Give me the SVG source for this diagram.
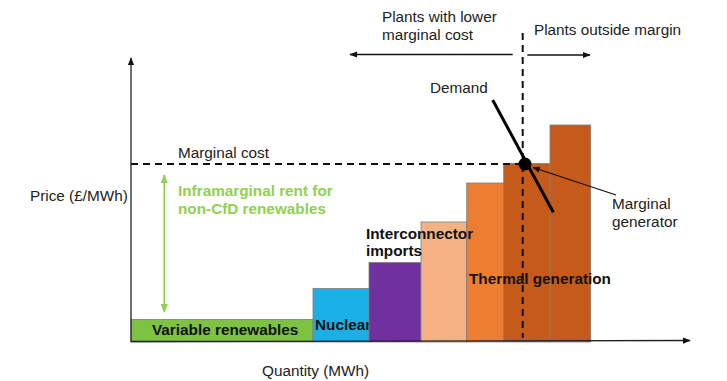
<svg xmlns="http://www.w3.org/2000/svg" width="727" height="381" viewBox="0 0 727 381">
<defs>
<style>
text{font-family:"Liberation Sans",Arial,sans-serif;font-size:15.3px;fill:#222}
.b{font-weight:bold;fill:#111}
.g{font-weight:bold;fill:#92d050}
.bar{stroke:#7f7f7f;stroke-width:0.8}
.ax{stroke:#222;stroke-width:1.3;fill:none}
.dash{stroke:#111;stroke-width:2;stroke-dasharray:7,5;fill:none}
</style>
<marker id="ah" viewBox="0 0 10 10" refX="9" refY="5" markerWidth="6" markerHeight="6" orient="auto-start-reverse"><path d="M0,1 L10,5 L0,9 z" fill="#111"/></marker>
<marker id="ahg" viewBox="0 0 10 10" refX="9" refY="5" markerWidth="5" markerHeight="6" orient="auto-start-reverse"><path d="M0,1 L10,5 L0,9 z" fill="#92d050"/></marker>
</defs>
<rect width="727" height="381" fill="#fff"/>
<g id="bars">
<g id="variable-renewables"><rect class="bar" x="131" y="319.5" width="182" height="22.5" fill="#7dc242"/><text class="b" x="152" y="335">Variable renewables</text></g>
<g id="nuclear"><rect class="bar" x="313" y="288.5" width="56" height="53.5" fill="#1aafe6"/><text class="b" x="315" y="330">Nuclear</text></g>
<g id="interconnector"><rect class="bar" x="369" y="262.5" width="52" height="79.5" fill="#7030a0"/></g>
<g id="thermal-1"><rect class="bar" x="421" y="222" width="45.7" height="120" fill="#f4b183"/></g>
<g id="thermal-2"><rect class="bar" x="466.7" y="183" width="37" height="159" fill="#ed7d31"/></g>
<g id="thermal-3"><rect class="bar" x="503.7" y="163.5" width="46.3" height="178.5" fill="#c55a1a"/></g>
<g id="thermal-4"><rect class="bar" x="550" y="125" width="40.7" height="217" fill="#c55a1a"/></g>
<text class="b" x="366" y="239">Interconnector</text>
<text class="b" x="366" y="256">imports</text>
<text class="b" x="469" y="284">Thermal generation</text>
</g>
<g id="connectors">
<line class="ax" x1="131" y1="342" x2="131" y2="58" marker-end="url(#ah)"/>
<line class="ax" x1="131" y1="341.5" x2="690" y2="340.5" marker-end="url(#ah)"/>
<line class="dash" x1="131" y1="164" x2="520" y2="164"/>
<line class="dash" x1="522.7" y1="33" x2="522.7" y2="338"/>
<line x1="164.3" y1="175" x2="164.3" y2="312" stroke="#92d050" stroke-width="1.8" marker-start="url(#ahg)" marker-end="url(#ahg)"/>
<line x1="512.7" y1="54.5" x2="350" y2="54.5" stroke="#111" stroke-width="1.3" marker-end="url(#ah)"/>
<line x1="527.3" y1="55" x2="590" y2="55" stroke="#111" stroke-width="1.3" marker-end="url(#ah)"/>
<line x1="492.7" y1="100" x2="553.3" y2="212.3" stroke="#000" stroke-width="3"/>
<circle cx="525" cy="164" r="6.5" fill="#000"/>
<line x1="616" y1="195" x2="533" y2="167.5" stroke="#111" stroke-width="1.3" marker-end="url(#ah)"/>
</g>
<g id="labels">
<text x="382" y="22">Plants with lower</text>
<text x="382" y="40">marginal cost</text>
<text x="534" y="35">Plants outside margin</text>
<text x="430" y="93">Demand</text>
<text x="178" y="158">Marginal cost</text>
<text x="30" y="201">Price (£/MWh)</text>
<text class="g" x="178" y="196">Inframarginal rent for</text>
<text class="g" x="178" y="214">non-CfD renewables</text>
<text x="612" y="209">Marginal</text>
<text x="612" y="227">generator</text>
<text x="262" y="376">Quantity (MWh)</text>
</g>
</svg>
